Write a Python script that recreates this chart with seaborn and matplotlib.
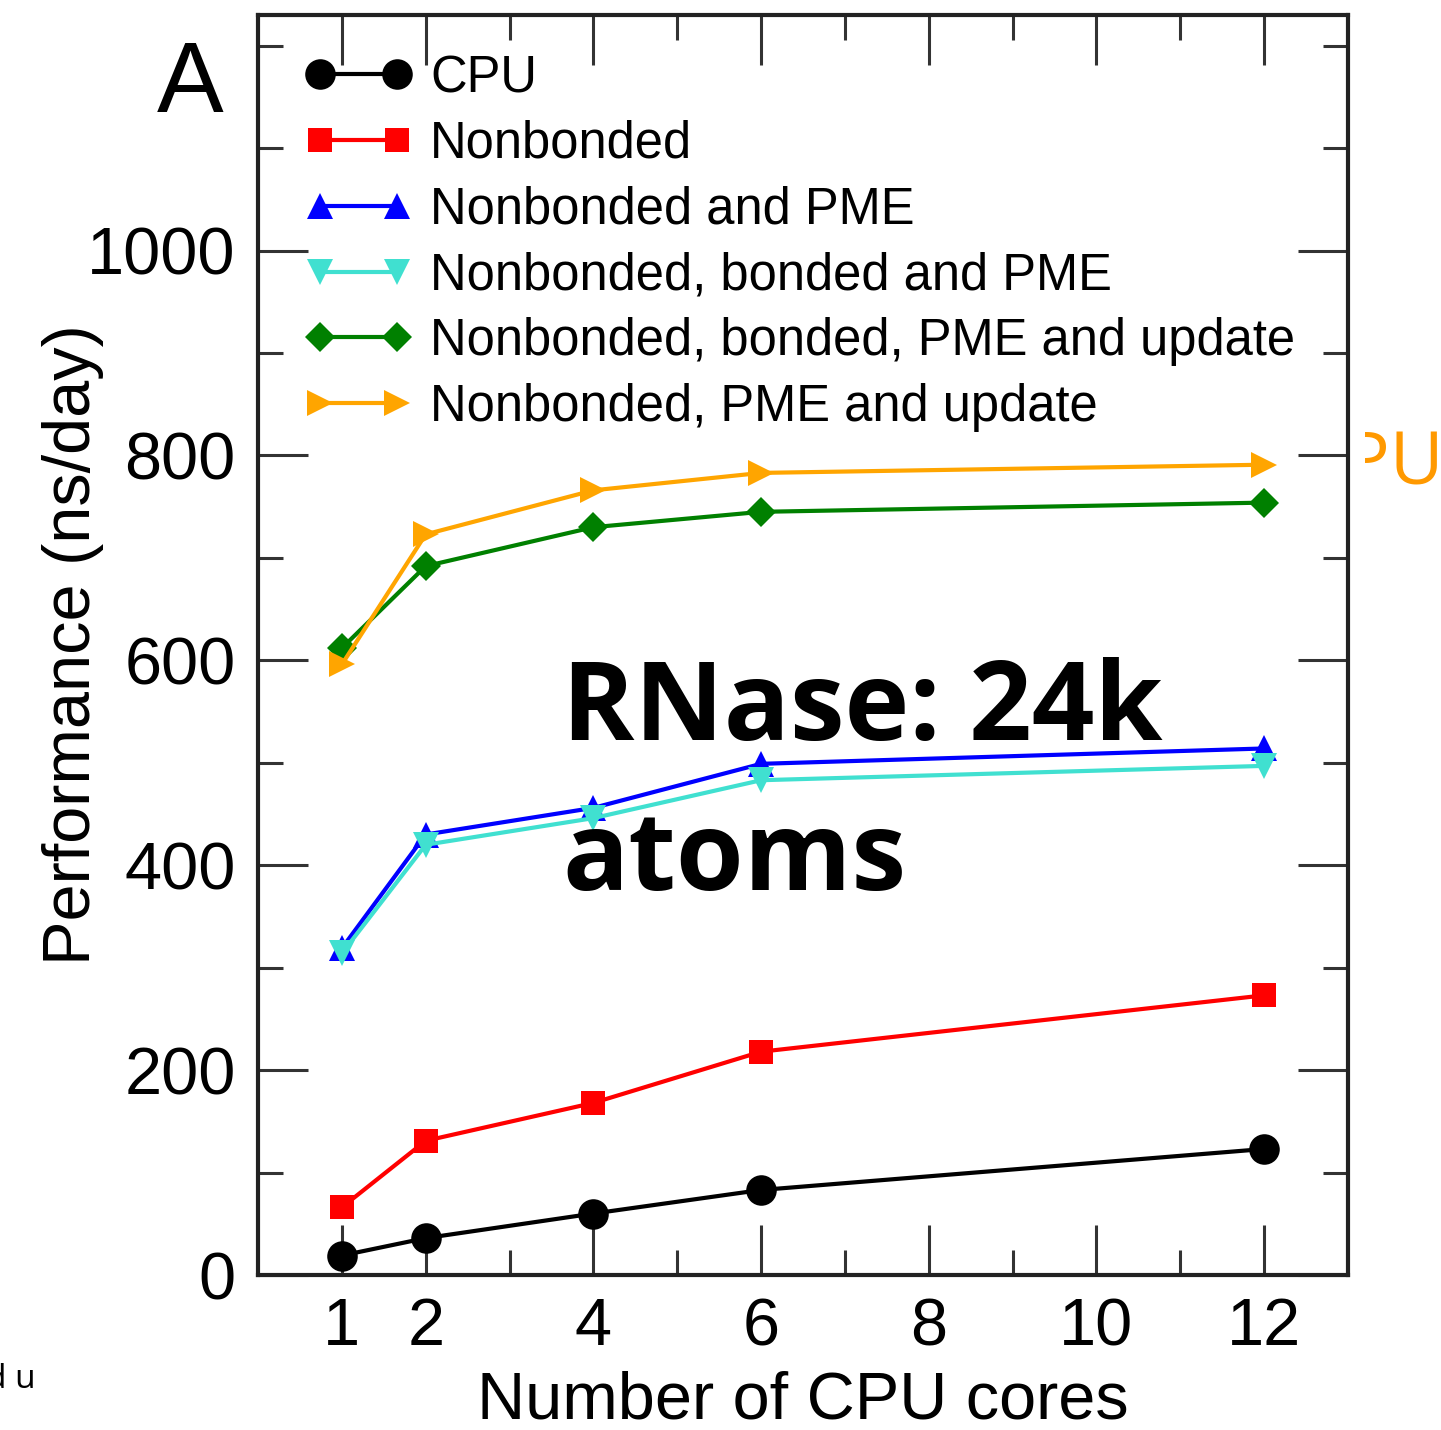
import numpy as np
import pandas as pd
import seaborn as sns
import matplotlib.pyplot as plt
from matplotlib.patches import Rectangle
from matplotlib.ticker import FixedLocator

# Data
cores = [1, 2, 4, 6, 12]
cpu = [19, 36, 60, 83, 123]
nonbonded = [66, 131, 168, 218, 273]
nb_pme = [319, 430, 456, 499, 514]
nb_bonded_pme = [314, 420, 446, 483, 497]
nb_bonded_pme_update = [612, 692, 730, 745, 754]
nb_pme_update = [596, 723, 766, 783, 791]

labels = ["CPU", "Nonbonded", "Nonbonded and PME", "Nonbonded, bonded and PME",
          "Nonbonded, bonded, PME and update", "Nonbonded, PME and update"]
series = [cpu, nonbonded, nb_pme, nb_bonded_pme, nb_bonded_pme_update, nb_pme_update]
colors = ["#000000", "#ff0000", "#0000ff", "#40e0d0", "#008000", "#ffa500"]
markers = ["o", "s", "^", "v", "D", ">"]
msizes = [22, 17, 19, 19, 15, 19]

xticks_major = [1, 2, 4, 6, 8, 10, 12]
xticks_minor = [3, 5, 7, 9, 11]
yticks_major = [0, 200, 400, 600, 800, 1000]
yticks_minor = [100, 300, 500, 700, 900, 1100, 1200]

sns.set_style("ticks")
plt.rcParams['font.family'] = ['Liberation Sans', 'DejaVu Sans']
plt.rcParams['text.color'] = 'black'
plt.rcParams['axes.labelcolor'] = 'black'

fig = plt.figure(figsize=(14.41, 14.30), dpi=100)
ax = fig.add_axes([258/1441, 1 - 1275/1430, (1348-258)/1441, (1275-15)/1430])

for vals, lab, c, m, ms in zip(series, labels, colors, markers, msizes):
    sns.lineplot(x=cores, y=vals, ax=ax, color=c, marker=m, markersize=ms,
                 markeredgewidth=0, linewidth=3, label=lab)

ax.set_xlim(0, 13)
ax.set_ylim(0, 1230)
ax.xaxis.set_major_locator(FixedLocator(xticks_major))
ax.xaxis.set_minor_locator(FixedLocator(xticks_minor))
ax.yaxis.set_major_locator(FixedLocator(yticks_major))
ax.yaxis.set_minor_locator(FixedLocator(yticks_minor))
ax.tick_params(which='both', direction='in', top=True, right=True, width=2.2,
               color='#333333', labelcolor='black')
ax.tick_params(which='major', length=36, pad=16, labelsize=48)
ax.tick_params(which='minor', length=18)
for s in ax.spines.values():
    s.set_linewidth(3)
    s.set_color('#222222')

ax.set_xlabel("Number of CPU cores", fontsize=48, labelpad=8)
ax.set_ylabel("Performance (ns/day)", fontsize=48, labelpad=-12)

handles, labs = ax.get_legend_handles_labels()
ax.legend(handles, labs, loc='upper left', bbox_to_anchor=(0.043, 0.969),
          frameon=False, fontsize=36.5, numpoints=2, handlelength=2.12,
          handletextpad=0.35, labelspacing=0.33, borderpad=0, borderaxespad=0)

fig.text(157/1441, 1 - 112/1430, "A", fontsize=72, va='baseline', ha='left')
fig.text(562/1441, 1 - 890/1430, "RNase: 24k\natoms", fontsize=79,
         fontweight='bold', family='Open Sans', va='baseline', ha='left',
         linespacing=1.49)
# label sitting behind the plot, only its tail shows at the right edge
fig.text(1 + 3/1441, 1 - 483/1430, "GPU", fontsize=53, family='Open Sans',
         color='#ff9900', va='baseline', ha='right', zorder=-2)
fig.patches.append(Rectangle((1348/1441, 1 - 500/1430), 17/1441, 90/1430,
                             transform=fig.transFigure, facecolor='white',
                             edgecolor='none', zorder=-1))
fig.text(-14/1441, 1 - 1388/1430, "d u", fontsize=24, family='Open Sans',
         va='baseline', ha='left')

fig.savefig("out.png", dpi=100)
